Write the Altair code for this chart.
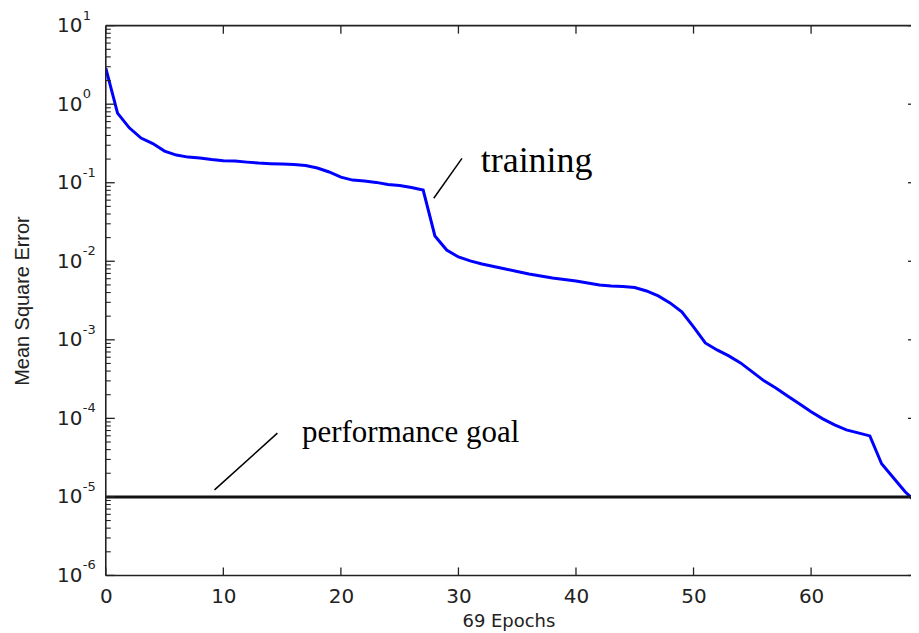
import altair as alt
import pandas as pd

# ---- data ----
epochs = list(range(70))
mse = [2.88, 0.77, 0.50, 0.37, 0.315, 0.253, 0.225, 0.212, 0.206, 0.197,
       0.191, 0.189, 0.183, 0.178, 0.175, 0.173, 0.171, 0.166, 0.154, 0.137,
       0.118, 0.108, 0.105, 0.101, 0.0949, 0.0921, 0.0869, 0.0807, 0.0210, 0.0139,
       0.01135, 0.0101, 0.00925, 0.00859, 0.00798, 0.00741, 0.00689, 0.0065, 0.00612, 0.00586,
       0.00561, 0.0053, 0.00499, 0.00485, 0.00478, 0.00464, 0.00419, 0.00362, 0.00295, 0.00227,
       0.00146, 0.000912, 0.000743, 0.000624, 0.000508, 0.00039, 0.0003, 0.000244, 0.000193, 0.000153,
       0.000121, 0.0000984, 0.0000826, 0.0000714, 0.0000653, 0.0000598, 0.0000264, 0.0000175, 0.0000116, 0.0000084]
goal = [1e-5]

x_ticks = [0, 10, 20, 30, 40, 50, 60]
y_ticks = [1e1, 1e0, 1e-1, 1e-2, 1e-3, 1e-4, 1e-5, 1e-6]
y_exponents = ["1", "0", "-1", "-2", "-3", "-4", "-5", "-6"]
y_minor = [m * 10.0 ** k for k in range(-6, 1) for m in range(2, 10)]

label_text = ["training", "performance goal"]
label_epoch = [31.9, 16.7]
label_mse = [0.137, 5.0e-5]
leader_x1 = [27.9, 9.25]
leader_y1 = [0.0634, 1.23e-5]
leader_x2 = [30.3, 14.6]
leader_y2 = [0.204, 6.49e-5]

# ---- layout ----
W, H = 807, 551

xs = alt.Scale(domain=[0, 68.5], nice=False, zero=False)
ys = alt.Scale(type="log", domain=[1e-6, 10], nice=False)

xaxis = alt.Axis(values=x_ticks, title="69 Epochs", grid=False, ticks=False, tickSize=0,
                 domain=False, labelFont="DejaVu Sans", labelFontSize=20, labelColor="#222222",
                 labelPadding=11, labelFlush=False, labelOverlap=False,
                 titleFont="DejaVu Sans", titleFontSize=18, titleFontWeight="normal",
                 titleColor="#222222", titlePadding=6)
yaxis = alt.Axis(values=y_ticks, labelExpr="'10'", title="Mean Square Error", grid=False,
                 ticks=False, tickSize=0, domain=False, labelFont="DejaVu Sans",
                 labelFontSize=20, labelColor="#222222", labelPadding=24, labelFlush=False,
                 labelOverlap=False, titleFont="Liberation Sans", titleFontSize=20,
                 titleFontWeight="normal", titleColor="#222222", titlePadding=24)


def X(f):
    return alt.X(f, type="quantitative", scale=xs, axis=xaxis)


def Y(f):
    return alt.Y(f, type="quantitative", scale=ys, axis=yaxis)


df = pd.DataFrame({"epoch": epochs, "mse": mse})
df_goal = pd.DataFrame({"mse": goal})
df_ymaj = pd.DataFrame({"mse": y_ticks, "exp": y_exponents})
df_ymin = pd.DataFrame({"mse": y_minor})
df_xmaj = pd.DataFrame({"epoch": x_ticks})
df_lab = pd.DataFrame({"epoch": label_epoch, "mse": label_mse, "text": label_text})
df_lead = pd.DataFrame({"epoch": leader_x1, "mse": leader_y1, "ex2": leader_x2, "my2": leader_y2})
one = pd.DataFrame({"a": [0]})

curve = alt.Chart(df).mark_line(color="#0000ff", strokeWidth=3, clip=True).encode(
    x=X("epoch"), y=Y("mse"))

goal_line = alt.Chart(df_goal).mark_rule(color="#111111", strokeWidth=3).encode(
    y=Y("mse"), x=alt.value(0), x2=alt.value(W))

leaders = alt.Chart(df_lead).mark_rule(color="black", strokeWidth=1.5).encode(
    x=X("epoch"), y=Y("mse"), x2=alt.X2("ex2"), y2=alt.Y2("my2"))

train_txt = alt.Chart(df_lab.iloc[[0]]).mark_text(
    align="left", baseline="alphabetic", font="Liberation Serif", fontSize=36, color="black"
).encode(x=X("epoch"), y=Y("mse"), text="text:N")

perf_txt = alt.Chart(df_lab.iloc[[1]]).mark_text(
    align="left", baseline="alphabetic", font="Liberation Serif", fontSize=31, color="black"
).encode(x=X("epoch"), y=Y("mse"), text="text:N")

ymaj_left = alt.Chart(df_ymaj).mark_rule(color="#222222", strokeWidth=1.3).encode(
    y=Y("mse"), x=alt.value(0), x2=alt.value(9))
ymaj_right = alt.Chart(df_ymaj).mark_rule(color="#222222", strokeWidth=1.3).encode(
    y=Y("mse"), x=alt.value(W - 3), x2=alt.value(W))
ymin_left = alt.Chart(df_ymin).mark_rule(color="#222222", strokeWidth=1.1).encode(
    y=Y("mse"), x=alt.value(0), x2=alt.value(5))
xmaj_bot = alt.Chart(df_xmaj).mark_rule(color="#222222", strokeWidth=1.3).encode(
    x=X("epoch"), y=alt.value(H), y2=alt.value(H - 8))
xmaj_top = alt.Chart(df_xmaj).mark_rule(color="#222222", strokeWidth=1.3).encode(
    x=X("epoch"), y=alt.value(0), y2=alt.value(8))

exps = alt.Chart(df_ymaj).mark_text(
    align="left", baseline="middle", dy=-10, font="DejaVu Sans", fontSize=13, color="#222222"
).encode(y=Y("mse"), x=alt.value(-23), text="exp:N")

border_top = alt.Chart(one).mark_rule(color="#222222", strokeWidth=1.6).encode(
    x=alt.value(0), x2=alt.value(W), y=alt.value(0))
border_bot = alt.Chart(one).mark_rule(color="#222222", strokeWidth=1.6).encode(
    x=alt.value(0), x2=alt.value(W), y=alt.value(H))
border_left = alt.Chart(one).mark_rule(color="#222222", strokeWidth=1.6).encode(
    x=alt.value(0), y=alt.value(0), y2=alt.value(H))

chart = alt.layer(
    curve, goal_line, leaders, train_txt, perf_txt,
    ymaj_left, ymaj_right, ymin_left, xmaj_bot, xmaj_top, exps,
    border_top, border_bot, border_left
).properties(
    width=W, height=H,
    autosize=alt.AutoSizeParams(type="none"),
    padding={"left": 98, "top": 17, "right": 0, "bottom": 56},
    background="white"
).configure_view(stroke=None)

chart.save("out.html", embed_options={"renderer": "svg", "actions": False})
